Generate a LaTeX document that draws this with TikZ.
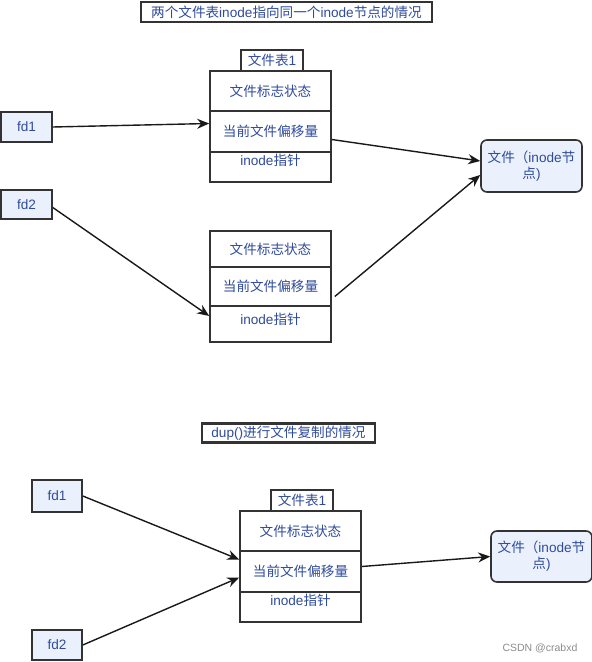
\documentclass[tikz,border=0pt]{standalone}
\usepackage{fontspec}
\setmainfont{Noto Sans CJK SC}
\newfontfamily\lat{Liberation Sans}
\usetikzlibrary{arrows.meta}
\definecolor{txt}{HTML}{2F4B9B}
\definecolor{bd}{HTML}{333333}
\definecolor{fillb}{HTML}{EAF1FD}
\newcommand{\fs}{\fontsize{13.6pt}{16pt}\selectfont}
\newcommand{\la}[1]{{\lat #1}}
\begin{document}
\begin{tikzpicture}[x=1pt,y=-1pt,
  box/.style={draw=bd, line width=1.6pt, fill=fillb, text=txt, inner sep=0pt, font=\fs},
  cell/.style={draw=bd, line width=1.6pt, fill=white, text=txt, inner sep=0pt, minimum width=121pt, font=\fs},
  lbl/.style={text=txt, inner sep=0pt, font=\fs},
  titlebox/.style={draw=bd, line width=2.2pt, fill=white, text=txt, inner sep=0pt, font=\fs},
  arr/.style={-{Stealth[length=12pt,width=10pt]}, line width=1.4pt, draw=black!90}]
\useasboundingbox[fill=white] (0,0) rectangle (592,662);
% top diagram
\node[titlebox, minimum width=291pt, minimum height=20pt] (title1) at (286.5,12) {两个文件表\la{inode}指向同一个\la{inode}节点的情况};
\node[cell, minimum width=62pt, minimum height=21pt] (tab1) at (272,60.5) {文件表\la{1}};
\node[cell, minimum height=40pt] (t1a) at (270.5,91) {文件标志状态};
\node[cell, minimum height=41pt] (t1b) at (270.5,131.5) {当前文件偏移量};
\node[cell, minimum height=30pt] (t1c) at (270.5,167) {};
\node[lbl] (t1cl) at (270.5,160) {\la{inode}指针};
\node[cell, minimum height=36pt] (t2a) at (270.5,249) {文件标志状态};
\node[cell, minimum height=39pt] (t2b) at (270.5,286.5) {当前文件偏移量};
\node[cell, minimum height=36pt] (t2c) at (270.5,324) {};
\node[lbl] (t2cl) at (270.5,319) {\la{inode}指针};
\node[box, minimum width=51pt, minimum height=30pt] (fd1) at (26.5,127) {\la{fd1}};
\node[box, minimum width=51pt, minimum height=29pt] (fd2) at (26.5,204.5) {\la{fd2}};
\node[box, rounded corners=6pt, minimum width=101pt, minimum height=52pt, align=center] (ino1) at (531.5,166) {文件（\la{inode}节\\点\la{)}};
\draw[arr] (fd1.east) -- ([yshift=8pt]t1b.west);
\draw[arr] ([yshift=-3pt]fd2.east) -- ([yshift=8pt]t2c.west);
\draw[arr] ([yshift=-8pt]t1b.east) -- ([yshift=5pt]ino1.west);
\draw[arr] ([xshift=3pt,yshift=-10pt]t2b.east) -- ([yshift=-9pt]ino1.west);
% bottom diagram
\node[titlebox, minimum width=173pt, minimum height=19pt] (title2) at (288.5,433) {\la{dup()}进行文件复制的情况};
\node[cell, minimum width=62pt, minimum height=21pt] (tab3) at (302,500.5) {文件表\la{1}};
\node[cell, minimum height=40pt] (t3a) at (300.5,531) {文件标志状态};
\node[cell, minimum height=41pt] (t3b) at (300.5,571.5) {当前文件偏移量};
\node[cell, minimum height=30pt] (t3c) at (300.5,607) {};
\node[lbl] (t3cl) at (300.5,600) {\la{inode}指针};
\node[box, minimum width=50pt, minimum height=32pt] (fd1b) at (57,496) {\la{fd1}};
\node[box, minimum width=50pt, minimum height=30pt] (fd2b) at (57,645) {\la{fd2}};
\node[box, rounded corners=6pt, minimum width=101pt, minimum height=51pt, align=center] (ino2) at (541.5,556.5) {文件（\la{inode}节\\点\la{)}};
\draw[arr] (fd1b.east) -- ([yshift=12pt]t3b.west);
\draw[arr] (fd2b.east) -- ([yshift=-6pt]t3b.west);
\draw[arr] ([yshift=5pt]t3b.east) -- (ino2.west);
\node[text=black!45, inner sep=0pt, font=\lat\fontsize{10.5pt}{12pt}\selectfont] (wm) at (540,648) {CSDN @crabxd};
\end{tikzpicture}
\end{document}
